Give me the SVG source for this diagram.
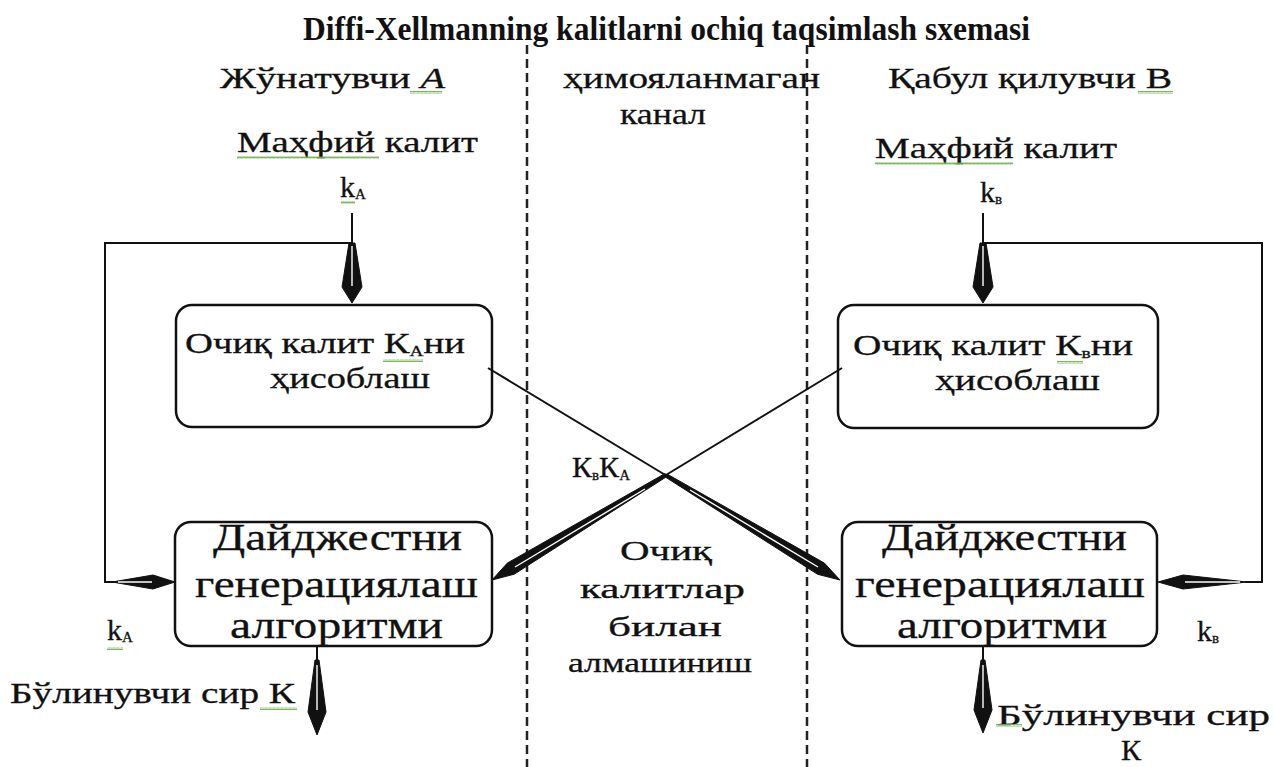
<svg xmlns="http://www.w3.org/2000/svg" width="1273" height="767" viewBox="0 0 1273 767">
<style>
.t{font-family:"Liberation Serif","DejaVu Serif","Noto Serif","FreeSerif","Tinos","Times New Roman",serif;fill:#111;font-size:30px;stroke:#111;stroke-width:0.3}
.title{font-size:33px;font-weight:bold;stroke-width:0}
.big{font-size:38px}
.mid{font-size:28px}
.sub{font-size:15px}
.box{fill:#fff;stroke:#111;stroke-width:2.5}
.ln{fill:none;stroke:#111;stroke-width:2}
.sp{fill:#111;stroke:#111;stroke-width:1}
.wl{stroke:#fff;stroke-width:1.4;fill:none}
.dash{stroke:#222;stroke-width:2.5;stroke-dasharray:9 5}
.wv{fill:url(#wave)}
</style>
<defs>
<pattern id="wave" width="4" height="3" patternUnits="userSpaceOnUse">
<path d="M0,2.5 L1,0.5 L2,2.5 L3,0.5 L4,2.5" fill="none" stroke="#6ab04c" stroke-width="0.9"/>
</pattern>
</defs>
<rect width="1273" height="767" fill="#fff"/>
<text class="t title" x="303" y="40" textLength="727" lengthAdjust="spacingAndGlyphs">Diffi-Xellmanning kalitlarni ochiq taqsimlash sxemasi</text>
<g id="channel">
<line class="dash" x1="527" y1="45" x2="527" y2="767"/>
<line class="dash" x1="807" y1="45" x2="807" y2="767"/>
<text class="t" x="563" y="88" textLength="257" lengthAdjust="spacingAndGlyphs">ҳимояланмаган</text>
<text class="t" x="620" y="124" textLength="86" lengthAdjust="spacingAndGlyphs">канал</text>
<text class="t mid" x="620" y="560" textLength="92" lengthAdjust="spacingAndGlyphs">Очиқ</text>
<text class="t mid" x="580" y="598" textLength="165" lengthAdjust="spacingAndGlyphs">калитлар</text>
<text class="t mid" x="608" y="636" textLength="114" lengthAdjust="spacingAndGlyphs">билан</text>
<text class="t mid" x="568" y="672" textLength="184" lengthAdjust="spacingAndGlyphs">алмашиниш</text>
</g>
<g id="sender-labels">
<text class="t" x="220" y="88" textLength="225" lengthAdjust="spacingAndGlyphs">Жўнатувчи <tspan font-style="italic">А</tspan></text>
<text class="t" x="237" y="152" textLength="241" lengthAdjust="spacingAndGlyphs">Маҳфий калит</text>
<text class="t" x="340" y="197">k<tspan class="sub" dy="2">A</tspan></text>
<text class="t" x="107" y="640">k<tspan class="sub" dy="2">A</tspan></text>
<text class="t" x="10" y="703" textLength="285" lengthAdjust="spacingAndGlyphs">Бўлинувчи сир К</text>
</g>
<g id="receiver-labels">
<text class="t" x="888" y="88" textLength="284" lengthAdjust="spacingAndGlyphs">Қабул қилувчи В</text>
<text class="t" x="875" y="158" textLength="242" lengthAdjust="spacingAndGlyphs">Маҳфий калит</text>
<text class="t" x="980" y="202">k<tspan class="sub" dy="2">в</tspan></text>
<text class="t" x="1197" y="641">k<tspan class="sub" dy="2">в</tspan></text>
<text class="t" x="997" y="725" textLength="273" lengthAdjust="spacingAndGlyphs">Бўлинувчи сир</text>
<text class="t" x="1121" y="760">К</text>
</g>
<g id="node-pubA">
<rect class="box" x="176" y="305" width="316" height="122" rx="16"/>
<text class="t" x="185" y="353" textLength="280" lengthAdjust="spacingAndGlyphs">Очиқ калит К<tspan class="sub" dy="3">A</tspan><tspan dy="-3">ни</tspan></text>
<text class="t" x="270" y="388" textLength="160" lengthAdjust="spacingAndGlyphs">ҳисоблаш</text>
</g>
<g id="node-pubB">
<rect class="box" x="838" y="305" width="320" height="123" rx="16"/>
<text class="t" x="853" y="355" textLength="280" lengthAdjust="spacingAndGlyphs">Очиқ калит К<tspan class="sub" dy="3">в</tspan><tspan dy="-3">ни</tspan></text>
<text class="t" x="935" y="390" textLength="165" lengthAdjust="spacingAndGlyphs">ҳисоблаш</text>
</g>
<g id="node-digestA">
<rect class="box" x="175" y="522" width="317" height="124" rx="16"/>
<text class="t big" x="213" y="550" textLength="249" lengthAdjust="spacingAndGlyphs">Дайджестни</text>
<text class="t big" x="195" y="597" textLength="283" lengthAdjust="spacingAndGlyphs">генерациялаш</text>
<text class="t big" x="230" y="638" textLength="213" lengthAdjust="spacingAndGlyphs">алгоритми</text>
</g>
<g id="node-digestB">
<rect class="box" x="842" y="522" width="315" height="124" rx="16"/>
<text class="t big" x="882" y="550" textLength="245" lengthAdjust="spacingAndGlyphs">Дайджестни</text>
<text class="t big" x="855" y="597" textLength="290" lengthAdjust="spacingAndGlyphs">генерациялаш</text>
<text class="t big" x="897" y="638" textLength="210" lengthAdjust="spacingAndGlyphs">алгоритми</text>
</g>
<g id="spellcheck-marks">
<rect class="wv" x="410" y="91" width="32" height="3"/>
<rect class="wv" x="237" y="156" width="142" height="3"/>
<rect class="wv" x="341" y="201" width="14" height="3"/>
<rect class="wv" x="383" y="359" width="40" height="3"/>
<rect class="wv" x="1138" y="91" width="35" height="3"/>
<rect class="wv" x="875" y="162" width="138" height="3"/>
<rect class="wv" x="1057" y="361" width="26" height="3"/>
<rect class="wv" x="107" y="647" width="16" height="3"/>
<rect class="wv" x="260" y="707" width="37" height="3"/>
<rect class="wv" x="996" y="724" width="26" height="3"/>
</g>
<g id="connectors">
<polyline class="ln" points="352,213 352,243 105,243 105,582 115,582"/>
<polygon class="sp" points="349,243 355,243 362,287 352,303 342,287"/>
<line class="wl" x1="352" y1="246" x2="352" y2="286"/>
<polygon class="sp" points="112,582 153,575 175,582 153,589"/>
<line class="wl" x1="118" y1="582" x2="152" y2="582"/>
<polyline class="ln" points="983,213 983,243 1262,243 1262,582 1245,582"/>
<polygon class="sp" points="980,243 986,243 993,287 983,303 973,287"/>
<line class="wl" x1="983" y1="246" x2="983" y2="286"/>
<polygon class="sp" points="1247,582 1183,575 1158,582 1183,589"/>
<line class="wl" x1="1240" y1="582" x2="1185" y2="582"/>
<line class="ln" x1="317" y1="646" x2="317" y2="665"/>
<polygon class="sp" points="315,660 319,660 326,712 317,735 308,712"/>
<line class="wl" x1="317" y1="665" x2="317" y2="710"/>
<line class="ln" x1="983" y1="646" x2="983" y2="665"/>
<polygon class="sp" points="981,660 985,660 992,710 983,733 974,710"/>
<line class="wl" x1="983" y1="665" x2="983" y2="708"/>
<line class="ln" x1="488" y1="368" x2="667" y2="476" stroke-width="1.6"/>
<polygon class="sp" points="667.9,474.5 824.4,563.1 840,580 817.6,574.3 666.1,477.5"/>
<line class="wl" x1="690" y1="490" x2="818" y2="567"/>
<line class="ln" x1="842" y1="368" x2="666" y2="475" stroke-width="1.6"/>
<polygon class="sp" points="665.1,473.5 507.4,563 492,580 514.2,574.2 666.9,476.5"/>
<line class="wl" x1="645" y1="489" x2="515" y2="567"/>
<text class="t" x="572" y="477">К<tspan class="sub" dy="3">в</tspan><tspan dy="-3">К</tspan><tspan class="sub" dy="3">A</tspan></text>
</g>
</svg>
